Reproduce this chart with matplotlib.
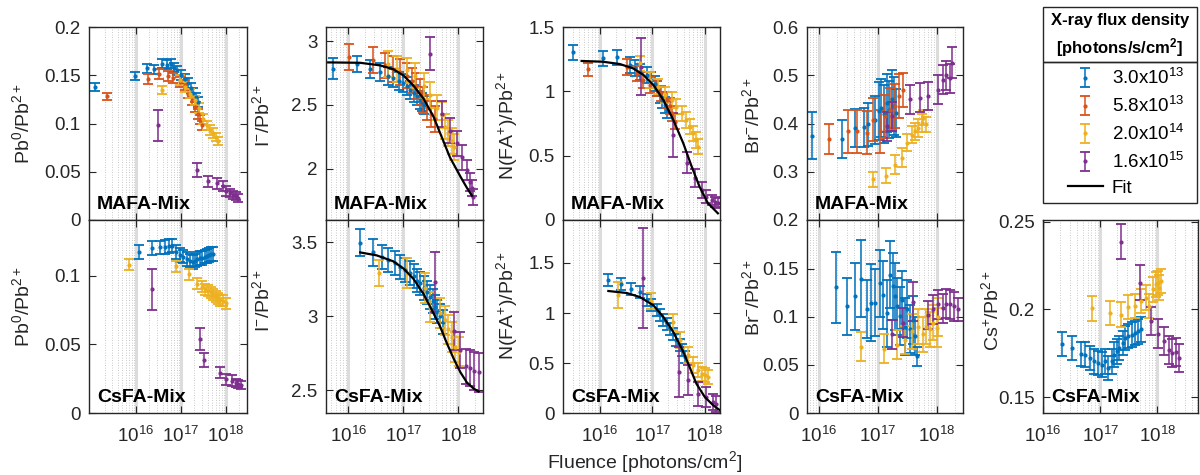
import matplotlib
matplotlib.use('Agg')
import matplotlib.pyplot as plt
import numpy as np
from matplotlib.patches import Rectangle
from matplotlib.ticker import FixedLocator, LogLocator, LogFormatterSciNotation, NullFormatter

plt.rcParams['font.family'] = ['Liberation Sans', 'DejaVu Sans']
plt.rcParams['mathtext.fontset'] = 'custom'
plt.rcParams['mathtext.rm'] = 'Liberation Sans'
plt.rcParams['mathtext.it'] = 'Liberation Sans:italic'
plt.rcParams['mathtext.bf'] = 'Liberation Sans:bold'

BLUE, RED, YELLOW, PURPLE = '#0072BD', '#D95319', '#EDB120', '#7E2F8E'
DARK = '#262626'

# (log10 fluence, value, error)
pb0_mafa_blue = [(15.09, 0.1375, 0.004), (15.98, 0.149, 0.004), (16.25, 0.157, 0.005), (16.40, 0.156, 0.005),
                 (16.57, 0.162, 0.005), (16.68, 0.161, 0.005), (16.77, 0.162, 0.005), (16.85, 0.158, 0.005),
                 (16.92, 0.155, 0.005), (17.00, 0.150, 0.005), (17.08, 0.146, 0.005), (17.15, 0.142, 0.005),
                 (17.22, 0.137, 0.005), (17.28, 0.132, 0.005), (17.34, 0.127, 0.005), (17.39, 0.122, 0.005)]
pb0_mafa_red = [(15.36, 0.128, 0.004), (16.27, 0.146, 0.005), (16.52, 0.151, 0.005), (16.72, 0.149, 0.005),
                (16.83, 0.147, 0.005), (16.98, 0.143, 0.005), (17.09, 0.140, 0.005), (17.16, 0.131, 0.005),
                (17.24, 0.124, 0.005), (17.31, 0.117, 0.005), (17.37, 0.110, 0.005), (17.42, 0.104, 0.005),
                (17.46, 0.098, 0.005)]
pb0_mafa_yellow = [(16.57, 0.135, 0.004), (16.98, 0.145, 0.005), (17.09, 0.138, 0.005), (17.20, 0.131, 0.005),
                   (17.31, 0.124, 0.005), (17.41, 0.116, 0.005), (17.50, 0.105, 0.005), (17.57, 0.098, 0.005),
                   (17.64, 0.093, 0.005), (17.72, 0.090, 0.005), (17.78, 0.086, 0.004), (17.83, 0.082, 0.004)]
pb0_mafa_purple = [(16.50, 0.098, 0.016), (17.35, 0.052, 0.007), (17.61, 0.040, 0.006), (17.81, 0.038, 0.006),
                   (17.93, 0.035, 0.005), (18.01, 0.030, 0.005), (18.10, 0.028, 0.004), (18.16, 0.026, 0.004),
                   (18.22, 0.025, 0.004), (18.27, 0.023, 0.004)]

pb0_csfa_blue = [(16.07, 0.1175, 0.005), (16.35, 0.120, 0.005), (16.53, 0.1206, 0.005), (16.64, 0.121, 0.005),
                 (16.74, 0.1216, 0.005), (16.81, 0.122, 0.005), (16.90, 0.1175, 0.005), (16.98, 0.115, 0.005),
                 (17.05, 0.114, 0.005), (17.13, 0.112, 0.005), (17.20, 0.111, 0.005), (17.26, 0.110, 0.005),
                 (17.31, 0.111, 0.005), (17.36, 0.112, 0.005), (17.42, 0.113, 0.005), (17.47, 0.113, 0.005),
                 (17.53, 0.114, 0.005), (17.57, 0.1143, 0.005), (17.62, 0.115, 0.005), (17.67, 0.1158, 0.005),
                 (17.72, 0.116, 0.005)]
pb0_csfa_yellow = [(15.85, 0.108, 0.004), (16.90, 0.107, 0.004), (17.19, 0.101, 0.004), (17.36, 0.094, 0.004),
                   (17.46, 0.092, 0.004), (17.53, 0.090, 0.004), (17.61, 0.089, 0.004), (17.67, 0.088, 0.004),
                   (17.72, 0.086, 0.004), (17.78, 0.085, 0.004), (17.83, 0.0835, 0.004), (17.88, 0.082, 0.004),
                   (17.94, 0.0816, 0.004), (18.00, 0.080, 0.004)]
pb0_csfa_purple = [(16.35, 0.090, 0.015), (17.42, 0.054, 0.008), (17.51, 0.0386, 0.005), (17.87, 0.0294, 0.004),
                   (18.01, 0.0245, 0.004), (18.13, 0.0235, 0.004), (18.22, 0.022, 0.003), (18.27, 0.021, 0.003),
                   (18.33, 0.0204, 0.003)]

iod_mafa_blue = [(15.73, 2.784, 0.083), (16.16, 2.82, 0.06), (16.40, 2.78, 0.07), (16.58, 2.76, 0.07),
                 (16.73, 2.73, 0.07), (16.82, 2.71, 0.07), (16.92, 2.69, 0.07), (16.99, 2.67, 0.07),
                 (17.07, 2.65, 0.07), (17.13, 2.62, 0.07), (17.19, 2.59, 0.07), (17.25, 2.57, 0.07),
                 (17.30, 2.54, 0.07), (17.34, 2.52, 0.07), (17.37, 2.50, 0.07)]
iod_mafa_red = [(16.02, 2.875, 0.1), (16.46, 2.85, 0.1), (16.67, 2.81, 0.1), (16.82, 2.78, 0.1),
                (16.95, 2.76, 0.1), (17.07, 2.73, 0.1), (17.16, 2.69, 0.1), (17.24, 2.65, 0.1),
                (17.30, 2.60, 0.1), (17.36, 2.54, 0.1), (17.43, 2.48, 0.1), (17.50, 2.43, 0.1), (17.58, 2.39, 0.1)]
iod_mafa_yellow = [(16.73, 2.82, 0.1), (16.88, 2.78, 0.1), (17.07, 2.77, 0.1), (17.22, 2.73, 0.1),
                   (17.37, 2.65, 0.1), (17.49, 2.58, 0.1), (17.61, 2.48, 0.1), (17.70, 2.42, 0.1),
                   (17.76, 2.33, 0.1), (17.82, 2.28, 0.1), (17.88, 2.22, 0.1), (17.93, 2.17, 0.1)]
iod_mafa_purple = [(17.49, 2.90, 0.13), (17.70, 2.43, 0.1), (17.85, 2.30, 0.1), (17.98, 2.20, 0.1),
                   (18.07, 2.09, 0.1), (18.16, 1.99, 0.08), (18.21, 1.90, 0.07), (18.25, 1.85, 0.06),
                   (18.26, 1.78, 0.06)]
iod_mafa_fit = [(15.64, 2.833), (16.22, 2.83), (16.58, 2.81), (16.82, 2.78), (17.01, 2.73), (17.19, 2.65),
                (17.37, 2.55), (17.55, 2.41), (17.70, 2.25), (17.85, 2.09), (18.04, 1.94), (18.16, 1.85),
                (18.25, 1.79)]

iod_csfa_blue = [(16.21, 3.495, 0.09), (16.46, 3.43, 0.09), (16.61, 3.40, 0.08), (16.73, 3.38, 0.08),
                 (16.85, 3.36, 0.08), (16.95, 3.33, 0.08), (17.04, 3.31, 0.08), (17.12, 3.29, 0.08),
                 (17.19, 3.27, 0.08), (17.25, 3.24, 0.08), (17.31, 3.22, 0.08), (17.37, 3.19, 0.08),
                 (17.43, 3.16, 0.08), (17.49, 3.13, 0.08), (17.54, 3.10, 0.08), (17.58, 3.06, 0.08),
                 (17.62, 3.03, 0.08), (17.67, 3.00, 0.08), (17.72, 2.96, 0.08)]
iod_csfa_yellow = [(16.56, 3.29, 0.09), (17.07, 3.29, 0.1), (17.39, 3.19, 0.1), (17.49, 3.06, 0.1),
                   (17.67, 3.02, 0.1), (17.76, 2.97, 0.1), (17.82, 2.91, 0.1), (17.88, 2.86, 0.1),
                   (17.95, 2.79, 0.1), (18.01, 2.76, 0.1)]
iod_csfa_purple = [(17.58, 3.23, 0.2), (17.92, 2.90, 0.13), (18.04, 2.77, 0.12), (18.15, 2.66, 0.12),
                   (18.22, 2.65, 0.12), (18.29, 2.63, 0.13), (18.37, 2.62, 0.13)]
iod_csfa_fit = [(16.22, 3.43), (16.52, 3.41), (16.82, 3.37), (17.01, 3.32), (17.19, 3.25), (17.37, 3.15),
                (17.55, 3.02), (17.67, 2.93), (17.79, 2.82), (17.92, 2.71), (18.04, 2.62), (18.16, 2.55),
                (18.28, 2.51), (18.37, 2.49)]

fa_mafa_blue = [(15.49, 1.303, 0.06), (16.06, 1.256, 0.06), (16.32, 1.264, 0.06), (16.57, 1.205, 0.06),
                (16.67, 1.18, 0.06), (16.76, 1.15, 0.06), (16.89, 1.127, 0.06), (16.98, 1.088, 0.06),
                (17.05, 1.06, 0.06), (17.09, 1.023, 0.06), (17.14, 0.972, 0.06), (17.19, 0.933, 0.06),
                (17.24, 0.894, 0.06), (17.27, 0.855, 0.06)]
fa_mafa_red = [(15.78, 1.171, 0.05), (16.51, 1.19, 0.06), (16.70, 1.14, 0.06), (16.83, 1.088, 0.06),
               (16.95, 1.05, 0.06), (17.08, 1.023, 0.06), (17.17, 0.984, 0.06), (17.27, 0.933, 0.06),
               (17.33, 0.886, 0.06), (17.38, 0.829, 0.06), (17.43, 0.764, 0.06)]
fa_mafa_yellow = [(16.76, 1.218, 0.06), (16.95, 1.088, 0.06), (17.11, 1.036, 0.06), (17.24, 0.972, 0.06),
                  (17.37, 0.933, 0.06), (17.46, 0.881, 0.06), (17.56, 0.829, 0.06), (17.65, 0.777, 0.06),
                  (17.71, 0.725, 0.06), (17.78, 0.674, 0.06), (17.83, 0.622, 0.06), (17.87, 0.570, 0.06)]
fa_mafa_purple = [(16.79, 1.192, 0.22), (17.40, 0.661, 0.17), (17.66, 0.446, 0.08), (17.81, 0.324, 0.07),
                  (17.94, 0.233, 0.06), (18.03, 0.181, 0.05), (18.13, 0.155, 0.04), (18.19, 0.142, 0.04),
                  (18.25, 0.13, 0.04)]
fa_mafa_fit = [(15.65, 1.236), (16.06, 1.23), (16.38, 1.212), (16.63, 1.179), (16.83, 1.127), (17.02, 1.049),
               (17.21, 0.933), (17.40, 0.777), (17.59, 0.596), (17.75, 0.415), (17.90, 0.259), (18.06, 0.13),
               (18.25, 0.052)]

fa_csfa_blue = [(16.16, 1.333, 0.06), (16.41, 1.293, 0.06), (16.60, 1.243, 0.06), (16.76, 1.21, 0.06),
                (16.89, 1.127, 0.06), (16.98, 1.077, 0.06), (17.08, 1.027, 0.06), (17.14, 0.977, 0.06),
                (17.21, 0.927, 0.06), (17.27, 0.893, 0.06), (17.33, 0.843, 0.06), (17.40, 0.793, 0.06),
                (17.46, 0.727, 0.06), (17.52, 0.677, 0.06), (17.57, 0.627, 0.06), (17.62, 0.56, 0.06)]
fa_csfa_yellow = [(16.35, 1.177, 0.13), (16.98, 1.117, 0.08), (17.40, 0.91, 0.08), (17.52, 0.727, 0.08),
                  (17.68, 0.577, 0.08), (17.78, 0.477, 0.08), (17.87, 0.427, 0.07), (17.94, 0.393, 0.07),
                  (18.00, 0.377, 0.07), (18.06, 0.36, 0.07)]
fa_csfa_purple = [(16.83, 1.35, 0.5), (17.51, 0.41, 0.25), (17.68, 0.327, 0.15), (17.87, 0.193, 0.12),
                  (18.03, 0.16, 0.1), (18.16, 0.11, 0.08), (18.22, 0.093, 0.08)]
fa_csfa_fit = [(16.16, 1.22), (16.51, 1.20), (16.76, 1.16), (17.02, 1.077), (17.21, 0.96), (17.40, 0.81),
               (17.59, 0.61), (17.71, 0.46), (17.84, 0.293), (18.00, 0.16), (18.16, 0.077), (18.29, 0.027)]

br_mafa_blue = [(15.89, 0.375, 0.048), (16.40, 0.368, 0.04), (16.61, 0.391, 0.04), (16.76, 0.392, 0.04),
                (16.84, 0.398, 0.045), (16.95, 0.408, 0.05), (17.01, 0.425, 0.06), (17.06, 0.432, 0.06),
                (17.10, 0.419, 0.06), (17.15, 0.443, 0.06), (17.19, 0.429, 0.06), (17.23, 0.45, 0.06),
                (17.27, 0.436, 0.06), (17.31, 0.422, 0.05)]
br_mafa_red = [(16.18, 0.368, 0.032), (16.50, 0.384, 0.045), (16.64, 0.384, 0.045), (16.81, 0.381, 0.045),
               (16.92, 0.408, 0.045), (17.03, 0.384, 0.045), (17.12, 0.415, 0.045), (17.20, 0.429, 0.045),
               (17.29, 0.436, 0.045), (17.36, 0.457, 0.045), (17.43, 0.47, 0.035)]
br_mafa_yellow = [(16.91, 0.284, 0.015), (17.14, 0.292, 0.016), (17.29, 0.315, 0.02), (17.40, 0.329, 0.02),
                  (17.49, 0.36, 0.018), (17.57, 0.377, 0.018), (17.63, 0.384, 0.018), (17.68, 0.391, 0.018),
                  (17.74, 0.401, 0.018), (17.77, 0.412, 0.015), (17.81, 0.398, 0.015)]
br_mafa_purple = [(17.15, 0.394, 0.03), (17.23, 0.415, 0.03), (17.54, 0.45, 0.03), (17.71, 0.453, 0.03),
                  (17.85, 0.457, 0.03), (18.02, 0.47, 0.03), (18.11, 0.491, 0.03), (18.16, 0.50, 0.03),
                  (18.22, 0.494, 0.03), (18.26, 0.526, 0.032)]

br_csfa_blue = [(16.29, 0.131, 0.037), (16.48, 0.111, 0.03), (16.61, 0.1215, 0.035), (16.72, 0.14, 0.04),
                (16.81, 0.108, 0.03), (16.89, 0.115, 0.04), (16.95, 0.115, 0.035), (17.03, 0.135, 0.035),
                (17.09, 0.123, 0.035), (17.15, 0.104, 0.035), (17.20, 0.144, 0.035), (17.25, 0.132, 0.035),
                (17.29, 0.1215, 0.035), (17.33, 0.111, 0.03), (17.37, 0.101, 0.03), (17.41, 0.118, 0.03),
                (17.46, 0.09, 0.03), (17.50, 0.108, 0.03), (17.54, 0.087, 0.025), (17.59, 0.097, 0.025),
                (17.63, 0.08, 0.02), (17.66, 0.059, 0.01)]
br_csfa_yellow = [(16.72, 0.069, 0.015), (17.10, 0.067, 0.015), (17.32, 0.071, 0.015), (17.46, 0.076, 0.015),
                  (17.57, 0.085, 0.018), (17.68, 0.090, 0.018), (17.77, 0.082, 0.018), (17.82, 0.090, 0.018),
                  (17.88, 0.087, 0.018), (17.94, 0.094, 0.018), (18.00, 0.089, 0.02), (18.02, 0.10, 0.02)]
br_csfa_purple = [(17.23, 0.082, 0.015), (17.43, 0.094, 0.015), (17.60, 0.116, 0.02), (17.85, 0.102, 0.015),
                  (17.93, 0.108, 0.015), (18.02, 0.113, 0.015), (18.10, 0.109, 0.015), (18.15, 0.114, 0.015),
                  (18.22, 0.113, 0.015), (18.28, 0.111, 0.015), (18.36, 0.108, 0.012)]

cs_csfa_blue = [(16.34, 0.1804, 0.0067), (16.51, 0.178, 0.007), (16.66, 0.1747, 0.007), (16.74, 0.1743, 0.007),
                (16.83, 0.1724, 0.007), (16.90, 0.1705, 0.007), (16.97, 0.1695, 0.007), (17.03, 0.1686, 0.007),
                (17.09, 0.1705, 0.007), (17.14, 0.1667, 0.007), (17.20, 0.1705, 0.007), (17.24, 0.1743, 0.007),
                (17.29, 0.1762, 0.007), (17.33, 0.178, 0.007), (17.39, 0.181, 0.007), (17.43, 0.1838, 0.007),
                (17.49, 0.1848, 0.007), (17.55, 0.1857, 0.007), (17.60, 0.1867, 0.007), (17.66, 0.1876, 0.007),
                (17.72, 0.1886, 0.007)]
cs_csfa_yellow = [(16.86, 0.2006, 0.007), (17.17, 0.198, 0.007), (17.37, 0.197, 0.007), (17.49, 0.2013, 0.007),
                  (17.60, 0.202, 0.007), (17.72, 0.2048, 0.007), (17.80, 0.2067, 0.007), (17.86, 0.202, 0.007),
                  (17.92, 0.2114, 0.007), (17.98, 0.2143, 0.007), (18.01, 0.2152, 0.007), (18.03, 0.2124, 0.007),
                  (18.06, 0.2162, 0.007)]
cs_csfa_purple = [(17.36, 0.2387, 0.01), (17.69, 0.2152, 0.01), (17.89, 0.1933, 0.008), (18.01, 0.1863, 0.008),
                  (18.12, 0.1819, 0.008), (18.21, 0.1771, 0.008), (18.26, 0.1752, 0.008), (18.32, 0.1758, 0.008),
                  (18.38, 0.1724, 0.008)]

legend_labels = ['3.0x10$^{13}$', '5.8x10$^{13}$', '2.0x10$^{14}$', '1.6x10$^{15}$', 'Fit']

W, H = 1200, 475
fig = plt.figure(figsize=(12, 4.75), dpi=100)


def add_panel(left, right, top, bottom, xlim_exp, ylim, yticks, ylabel, label_y, label_off,
              tag, series, fit=None, xlabels=True):
    ax = fig.add_axes([left / W, 1 - bottom / H, (right - left) / W, (bottom - top) / H])
    ax.set_xscale('log')
    for pts, color in series:
        lf, y, e = (np.array(v) for v in zip(*pts))
        ax.errorbar(10 ** lf, y, yerr=e, fmt='.', color=color, ms=4, elinewidth=1.1,
                    capsize=3.8, capthick=1.3)
    if fit is not None:
        lf, y = (np.array(v) for v in zip(*fit))
        ax.plot(10 ** lf, y, color='k', lw=1.6, zorder=5)
    ax.set_xlim(10 ** xlim_exp[0], 10 ** xlim_exp[1])
    ax.set_ylim(*ylim)
    ax.set_yticks(yticks[0], yticks[1])
    ax.xaxis.set_major_locator(FixedLocator([1e16, 1e17, 1e18]))
    ax.xaxis.set_major_formatter(LogFormatterSciNotation())
    ax.xaxis.set_minor_locator(LogLocator(base=10, subs=np.arange(2, 10), numticks=30))
    ax.xaxis.set_minor_formatter(NullFormatter())
    ax.grid(True, which='major', axis='x', color='#dcdcdc', lw=2.2)
    ax.grid(True, which='minor', axis='x', color='#b8b8b8', lw=0.6, ls=(0, (1, 2)))
    ax.set_axisbelow(True)
    ax.tick_params(which='major', direction='in', top=True, right=True, length=5, width=0.8,
                   colors=DARK, labelsize=13.5, labelbottom=xlabels, pad=9)
    ax.tick_params(axis='y', pad=6)
    ax.tick_params(which='minor', length=0)
    for s in ax.spines.values():
        s.set_color(DARK)
        s.set_linewidth(1)
    ax.set_ylabel(ylabel, fontsize=14, color=DARK)
    ax.yaxis.set_label_coords(-label_off / (right - left), label_y)
    ax.text(0.05, 0.035, tag, transform=ax.transAxes, fontsize=14, fontweight='bold',
            ha='left', va='bottom', color='k', zorder=6)
    return ax


T0, MID, B0 = 27, 220, 413

axA = add_panel(89, 247, T0, MID, (14.956, 18.47), (0, 0.2),
                ([0, 0.05, 0.1, 0.15, 0.2], ['0', '0.05', '0.1', '0.15', '0.2']),
                'Pb$^0$/Pb$^{2+}$', 0.5, 56, 'MAFA-Mix',
                [(pb0_mafa_blue, BLUE), (pb0_mafa_red, RED), (pb0_mafa_yellow, YELLOW),
                 (pb0_mafa_purple, PURPLE)], xlabels=False)
add_panel(89, 247, MID, B0, (14.956, 18.47), (0, 0.1406),
          ([0, 0.05, 0.1], ['0', '0.05', '0.1']),
          'Pb$^0$/Pb$^{2+}$', 0.55, 56, 'CsFA-Mix',
          [(pb0_csfa_blue, BLUE), (pb0_csfa_yellow, YELLOW), (pb0_csfa_purple, PURPLE)])

axC = add_panel(326, 483, T0, MID, (15.6, 18.45), (1.6, 3.11),
                ([2, 2.5, 3], ['2', '2.5', '3']),
                'I$^{-}$/Pb$^{2+}$', 0.54, 53, 'MAFA-Mix',
                [(iod_mafa_blue, BLUE), (iod_mafa_red, RED), (iod_mafa_yellow, YELLOW),
                 (iod_mafa_purple, PURPLE)], fit=iod_mafa_fit, xlabels=False)
add_panel(326, 483, MID, B0, (15.6, 18.45), (2.345, 3.649),
          ([2.5, 3, 3.5], ['2.5', '3', '3.5']),
          'I$^{-}$/Pb$^{2+}$', 0.58, 53, 'CsFA-Mix',
          [(iod_csfa_blue, BLUE), (iod_csfa_yellow, YELLOW), (iod_csfa_purple, PURPLE)], fit=iod_csfa_fit)

add_panel(563, 720, T0, MID, (15.295, 18.29), (0, 1.5),
          ([0, 0.5, 1, 1.5], ['0', '0.5', '1', '1.5']),
          'N(FA$^{+}$)/Pb$^{2+}$', 0.49, 43, 'MAFA-Mix',
          [(fa_mafa_blue, BLUE), (fa_mafa_red, RED), (fa_mafa_yellow, YELLOW),
           (fa_mafa_purple, PURPLE)], fit=fa_mafa_fit, xlabels=False)
add_panel(563, 720, MID, B0, (15.295, 18.29), (0, 1.93),
          ([0, 0.5, 1, 1.5], ['0', '0.5', '1', '1.5']),
          'N(FA$^{+}$)/Pb$^{2+}$', 0.56, 43, 'CsFA-Mix',
          [(fa_csfa_blue, BLUE), (fa_csfa_yellow, YELLOW), (fa_csfa_purple, PURPLE)], fit=fa_csfa_fit)

add_panel(807, 963, T0, MID, (15.8, 18.44), (0.2, 0.6),
          ([0.2, 0.3, 0.4, 0.5, 0.6], ['0.2', '0.3', '0.4', '0.5', '0.6']),
          'Br$^{-}$/Pb$^{2+}$', 0.54, 44, 'MAFA-Mix',
          [(br_mafa_blue, BLUE), (br_mafa_red, RED), (br_mafa_yellow, YELLOW),
           (br_mafa_purple, PURPLE)], xlabels=False)
add_panel(807, 963, MID, B0, (15.8, 18.44), (0, 0.201),
          ([0, 0.05, 0.1, 0.15], ['0', '0.05', '0.1', '0.15']),
          'Br$^{-}$/Pb$^{2+}$', 0.6, 44, 'CsFA-Mix',
          [(br_csfa_blue, BLUE), (br_csfa_yellow, YELLOW), (br_csfa_purple, PURPLE)])

add_panel(1043, 1198, MID, B0, (16.0, 18.71), (0.141, 0.251),
          ([0.15, 0.2, 0.25], ['0.15', '0.2', '0.25']),
          'Cs$^{+}$/Pb$^{2+}$', 0.53, 41, 'CsFA-Mix',
          [(cs_csfa_blue, BLUE), (cs_csfa_yellow, YELLOW), (cs_csfa_purple, PURPLE)])

fig.text(645 / W, 1 - 462 / H, 'Fluence [photons/cm$^2$]', ha='center', va='center',
         fontsize=14, color=DARK)

# legend: title box + entries box
lx0, lx1, ly0, lsep, ly1 = 1043, 1197, 7, 62, 203
for y_top, y_bot in ((ly0, lsep), (lsep, ly1)):
    fig.patches.append(Rectangle((lx0 / W, 1 - y_bot / H), (lx1 - lx0) / W, (y_bot - y_top) / H,
                                 transform=fig.transFigure, fill=False, edgecolor=DARK, lw=1))
fig.text((lx0 + lx1) / 2 / W, 1 - 21 / H, 'X-ray flux density', ha='center', va='center',
         fontsize=12, fontweight='bold', color='k')
fig.text((lx0 + lx1) / 2 / W, 1 - 48 / H, '[photons/s/cm$^\\mathbf{2}$]', ha='center', va='center',
         fontsize=12, fontweight='bold', color='k')
handles = [c for c in axA.containers][:4] + [axC.lines[-1]]
leg = fig.legend(handles, legend_labels, loc='center',
                 bbox_to_anchor=((lx0 + lx1) / 2 / W + 6 / W, 1 - (lsep + ly1) / 2 / H),
                 frameon=False, fontsize=13.5, handlelength=1.9, handletextpad=0.45,
                 labelspacing=0.42, borderpad=0)

fig.savefig('out.png', dpi=100)
